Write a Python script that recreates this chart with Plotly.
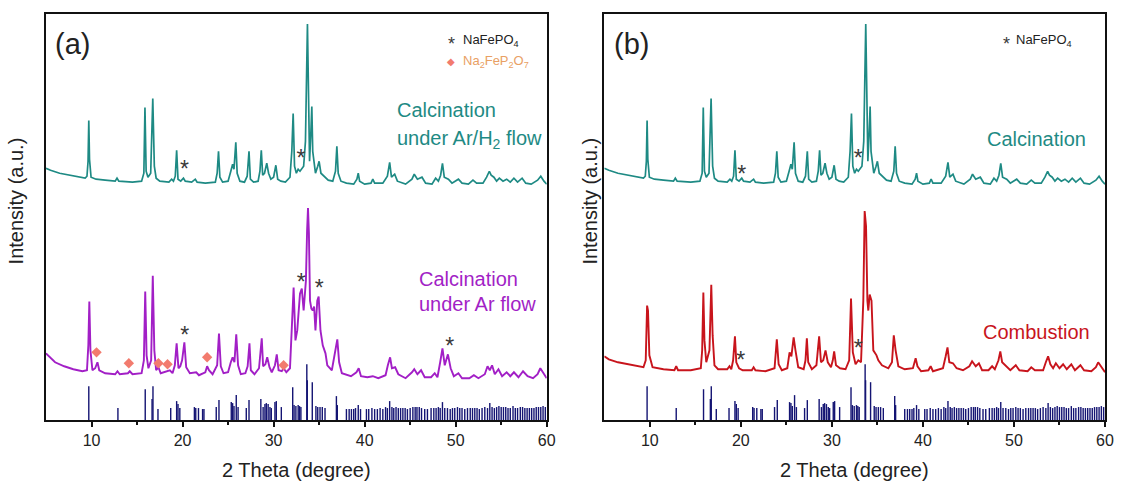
import plotly.graph_objects as go

# ---------------------------------------------------------------------------
# XRD patterns (2-theta in degrees, stacked intensity in arbitrary units)
# ---------------------------------------------------------------------------

# Calcination under Ar/H2 flow (also shown as "Calcination" in panel b)
teal_2theta = [5.0, 5.5, 6.5, 7.5, 8.5, 9.3, 9.5, 9.62, 9.7, 9.78, 9.95, 10.5, 11.5, 12.6, 12.8, 13.0,
               14.5, 15.5, 15.75, 15.87, 16.0, 16.2, 16.5, 16.73, 16.9, 17.1, 17.5, 18.5, 18.8, 19.0,
               19.2, 19.35, 19.5, 19.8, 20.1, 20.3, 21.0, 21.4, 21.6, 22.5, 23.6, 23.8, 23.95, 24.1,
               24.4, 25.0, 25.3, 25.5, 25.65, 25.85, 26.0, 26.3, 26.8, 27.1, 27.3, 27.45, 27.8, 28.3,
               28.5, 28.65, 28.8, 29.0, 29.25, 29.45, 29.7, 30.0, 30.25, 30.45, 30.8, 31.3, 31.8, 32.0,
               32.15, 32.3, 32.5, 32.7, 32.9, 33.1, 33.3, 33.5, 33.62, 33.72, 33.85, 33.95, 34.1, 34.2,
               34.3, 34.45, 34.6, 34.85, 35.0, 35.2, 35.6, 36.0, 36.5, 36.8, 36.95, 37.1, 37.4, 38.0,
               38.8, 39.15, 39.3, 39.45, 40.0, 40.7, 40.9, 41.1, 42.0, 42.5, 42.75, 42.95, 43.3, 43.6,
               44.5, 45.2, 45.45, 45.8, 46.3, 46.7, 47.4, 47.8, 48.1, 48.35, 48.55, 48.75, 49.2, 49.6,
               50.3, 50.7, 51.4, 51.9, 52.3, 53.0, 53.4, 53.7, 53.9, 54.2, 54.5, 54.8, 55.2, 55.6,
               56.0, 56.4, 56.8, 57.3, 57.7, 58.3, 59.0, 59.35, 59.7, 60.0]
teal_int = [253, 251, 248, 246, 244, 243, 245, 260, 301, 262, 244, 242, 241, 240, 243, 240,
            239, 240, 248, 314, 250, 244, 248, 323, 255, 243, 240, 239, 242, 240,
            245, 271, 242, 240, 243, 240, 239, 242, 239, 238, 239, 248, 270, 244,
            239, 240, 250, 257, 252, 279, 248, 240, 239, 245, 270, 242, 239, 240,
            250, 271, 246, 248, 258, 248, 242, 244, 256, 242, 240, 239, 244, 270,
            308, 255, 248, 252, 250, 253, 255, 280, 360, 398, 320, 260, 290, 315,
            270, 258, 248, 255, 260, 248, 244, 241, 240, 250, 275, 248, 240, 238,
            237, 242, 248, 240, 237, 238, 242, 238, 238, 245, 259, 244, 247, 240,
            237, 242, 247, 242, 244, 238, 237, 243, 240, 246, 258, 244, 242, 238,
            242, 238, 237, 241, 238, 238, 244, 250, 246, 244, 240, 243, 240, 242,
            239, 243, 239, 243, 238, 237, 241, 245, 240, 237]

# Calcination under Ar flow
purple_2theta = [5.0, 5.5, 6.0, 7.0, 8.0, 9.0, 9.5, 9.65, 9.76, 9.88, 10.1, 10.4, 10.65, 10.85, 11.5,
                 12.6, 12.85, 13.1, 14.0, 14.2, 14.5, 15.5, 15.75, 15.9, 16.05, 16.25, 16.55, 16.73,
                 16.9, 17.1, 17.35, 17.6, 18.3, 18.6, 18.9, 19.15, 19.35, 19.55, 19.75, 19.95, 20.2,
                 20.4, 20.8, 21.5, 21.8, 22.5, 22.7, 22.9, 23.3, 23.8, 24.0, 24.2, 24.5, 25.0, 25.3,
                 25.5, 25.7, 25.9, 26.1, 26.4, 26.9, 27.15, 27.35, 27.5, 27.9, 28.4, 28.7, 28.85, 29.1,
                 29.3, 29.55, 29.8, 30.15, 30.35, 30.55, 30.9, 31.1, 31.4, 31.8, 32.0, 32.2, 32.4, 32.6,
                 32.9, 33.1, 33.3, 33.55, 33.68, 33.78, 33.88, 34.0, 34.15, 34.3, 34.45, 34.6, 34.8,
                 34.95, 35.15, 35.4, 35.7, 35.9, 36.4, 36.8, 37.0, 37.2, 37.5, 38.5, 39.1, 39.35, 39.6,
                 40.3, 40.9, 41.5, 42.3, 42.55, 42.8, 43.0, 43.35, 43.7, 44.5, 45.2, 45.45, 45.8, 46.2,
                 46.6, 47.3, 47.7, 48.0, 48.3, 48.55, 48.8, 49.15, 49.45, 49.8, 50.3, 50.7, 51.5, 52.0,
                 52.5, 53.2, 53.5, 53.75, 54.0, 54.3, 54.7, 55.1, 55.6, 56.0, 56.4, 56.9, 57.4, 57.9,
                 58.5, 59.0, 59.3, 59.7, 60.0]
purple_int = [67, 62, 58, 54, 51, 49, 50, 75, 119, 70, 50, 52, 58, 50, 47,
              46, 49, 46, 47, 49, 46, 47, 60, 129, 65, 52, 60, 145,
              70, 50, 53, 47, 49, 50, 47, 55, 77, 52, 54, 60, 78,
              53, 47, 48, 45, 48, 54, 50, 46, 55, 87, 54, 47, 48, 58,
              63, 58, 86, 55, 46, 47, 54, 77, 50, 46, 52, 82, 54, 56,
              63, 53, 48, 55, 66, 50, 49, 52, 48, 52, 90, 133, 80, 90,
              127, 132, 110, 140, 190, 213, 188, 120, 112, 110, 114, 90, 120,
              124, 90, 75, 67, 55, 50, 70, 81, 58, 47, 44, 48, 52, 44,
              43, 44, 42, 45, 55, 63, 52, 53, 46, 42, 48, 51, 46, 50,
              43, 43, 47, 43, 58, 72, 55, 66, 52, 44, 47, 42, 42, 45,
              42, 46, 54, 50, 55, 46, 51, 44, 48, 44, 48, 43, 49, 44,
              42, 46, 52, 46, 42]

# Combustion
red_2theta = [5.0, 5.5, 6.5, 7.5, 8.5, 9.3, 9.55, 9.7, 9.8, 9.95, 10.3, 11.5, 12.7, 12.9, 13.1, 14.5,
              15.6, 15.75, 15.88, 16.0, 16.2, 16.55, 16.75, 16.9, 17.1, 17.5, 18.5, 18.75, 18.95, 19.15,
              19.35, 19.5, 19.8, 20.2, 21.2, 21.4, 21.6, 22.7, 23.7, 23.95, 24.15, 24.5, 25.1, 25.35,
              25.55, 25.8, 26.0, 26.3, 26.9, 27.1, 27.25, 27.4, 27.8, 28.3, 28.6, 28.8, 29.05, 29.3,
              29.55, 29.9, 30.1, 30.25, 30.45, 30.9, 31.5, 31.9, 32.1, 32.3, 32.6, 32.9, 33.2, 33.45,
              33.6, 33.75, 33.9, 34.0, 34.15, 34.35, 34.55, 34.9, 35.1, 35.5, 36.2, 36.6, 36.8, 37.0,
              37.3, 38.0, 38.9, 39.2, 39.4, 39.8, 40.6, 40.85, 41.1, 42.2, 42.5, 42.7, 42.9, 43.3,
              43.7, 44.4, 45.1, 45.4, 45.8, 46.15, 46.5, 47.2, 47.6, 47.9, 48.3, 48.5, 48.7, 49.1,
              49.6, 50.2, 50.6, 51.5, 51.9, 52.3, 53.2, 53.5, 53.75, 54.0, 54.3, 54.6, 55.0, 55.4,
              55.8, 56.3, 56.7, 57.3, 57.7, 58.5, 59.0, 59.25, 59.6, 60.0]
red_int = [64, 61, 58, 56, 54, 53, 60, 115, 110, 65, 53, 51, 50, 54, 50, 50,
           52, 70, 128, 80, 58, 70, 136, 85, 55, 51, 51, 54, 51, 60,
           84, 58, 52, 50, 50, 53, 50, 49, 52, 81, 56, 50, 52, 68,
           64, 83, 70, 53, 51, 60, 82, 58, 51, 55, 84, 58, 60, 70,
           58, 53, 60, 69, 55, 52, 51, 60, 122, 68, 56, 60, 58, 120,
           210, 195, 120, 110, 126, 120, 70, 65, 60, 55, 52, 58, 85, 70,
           54, 51, 52, 62, 54, 49, 50, 54, 49, 52, 64, 73, 58, 57,
           52, 50, 54, 59, 54, 57, 50, 50, 54, 51, 60, 69, 58, 54,
           50, 55, 50, 49, 53, 50, 50, 58, 64, 56, 52, 57, 52, 56,
           51, 56, 50, 55, 50, 49, 53, 58, 53, 48]

# NaFePO4 reference pattern (stick positions and relative heights)
ref_2theta = [9.7, 12.9, 15.9, 16.65, 16.75, 17.3, 18.7, 19.35, 19.5, 19.7, 21.3, 21.45, 21.75, 22.2,
              22.35, 23.7, 24.0, 25.35, 25.5, 25.65, 25.9, 26.1, 27.0, 27.3, 28.6, 28.85, 29.05, 29.2,
              29.4, 29.6, 29.75, 30.15, 30.3, 30.85, 32.1, 32.25, 32.45, 32.7, 32.85, 33.0, 33.65,
              33.7, 34.25, 34.65, 34.85, 35.1, 35.35, 35.65, 36.9, 37.0, 38.0, 38.3, 38.55, 38.8, 39.0,
              39.3, 39.55, 40.2, 40.45, 40.8, 41.1, 41.4, 41.7, 42.0, 42.3, 42.5, 42.75, 43.0, 43.2,
              43.45, 43.7, 43.95, 44.2, 44.45, 44.7, 45.0, 45.3, 45.55, 45.75, 46.0, 46.25, 46.6, 46.9,
              47.3, 47.6, 47.85, 48.1, 48.3, 48.55, 48.8, 49.1, 49.4, 49.65, 49.9, 50.2, 50.45, 50.7,
              51.0, 51.3, 51.6, 51.85, 52.1, 52.35, 52.6, 52.9, 53.2, 53.5, 53.75, 54.0, 54.25, 54.5,
              54.75, 55.0, 55.25, 55.5, 55.75, 56.0, 56.3, 56.55, 56.8, 57.1, 57.35, 57.6, 57.85, 58.1,
              58.35, 58.6, 58.85, 59.1, 59.35, 59.6, 59.85]
ref_int = [34, 12, 31, 21, 34, 11, 12, 19, 16, 12, 13, 12, 12, 11,
           11, 13, 20, 18, 17, 14, 25, 13, 12, 20, 21, 13, 16, 17,
           16, 13, 12, 18, 19, 13, 33, 15, 14, 15, 14, 13, 56,
           40, 38, 14, 13, 13, 13, 12, 24, 15, 11, 11, 11, 11, 12,
           15, 11, 11, 11, 12, 11, 11, 12, 11, 13, 12, 19, 13, 12,
           13, 12, 12, 12, 12, 11, 12, 13, 13, 13, 13, 12, 11, 11,
           12, 12, 12, 13, 12, 18, 12, 12, 11, 12, 12, 13, 12, 12,
           11, 12, 12, 12, 12, 12, 11, 12, 13, 12, 17, 13, 12, 13,
           14, 13, 13, 13, 12, 12, 14, 12, 12, 13, 13, 12, 12, 12,
           12, 12, 13, 13, 13, 14, 13]

# Phase markers: NaFePO4 (*) and Na2FeP2O7 (diamond)
star_a_2theta = [20.2, 33.0, 20.25, 33.05, 35.0, 49.35]
star_a_int = [250, 261, 83, 136, 130, 72]
diamond_a_2theta = [10.55, 14.1, 17.35, 18.35, 22.7, 31.1]
diamond_a_int = [68, 57, 57, 56, 63, 55]
star_b_2theta = [20.1, 32.9, 20.0, 32.9]
star_b_int = [245, 261, 58, 70]

TEAL = "#1e8a84"
PURPLE = "#a21fc6"
RED = "#c8141c"
NAVY = "#141473"
STAR = "#3a3a3a"
DIAMOND = "#f27b6e"
FONT = "Liberation Sans, Arial, sans-serif"


def sticks(pos, h):
    xs, ys = [], []
    for p, v in zip(pos, h):
        xs += [p, p, None]
        ys += [0, v, None]
    return xs, ys


fig = go.Figure()

stick_x, stick_y = sticks(ref_2theta, ref_int)

for xa, ya, upper, lower, lower_color in [("x", "y", teal_int, purple_int, PURPLE),
                                         ("x2", "y2", teal_int, red_int, RED)]:
    fig.add_trace(go.Scatter(x=stick_x, y=stick_y, mode="lines", xaxis=xa, yaxis=ya,
                             line=dict(color=NAVY, width=1.4), hoverinfo="skip"))
    fig.add_trace(go.Scatter(x=teal_2theta, y=upper, mode="lines", xaxis=xa, yaxis=ya,
                             line=dict(color=TEAL, width=1.7)))
    lower_x = purple_2theta if xa == "x" else red_2theta
    fig.add_trace(go.Scatter(x=lower_x, y=lower, mode="lines", xaxis=xa, yaxis=ya,
                             line=dict(color=lower_color, width=1.9)))

fig.add_trace(go.Scatter(x=star_a_2theta, y=star_a_int, mode="text", text=["*"] * len(star_a_2theta),
                         textfont=dict(family=FONT, size=23, color=STAR), xaxis="x", yaxis="y"))
fig.add_trace(go.Scatter(x=diamond_a_2theta, y=diamond_a_int, mode="markers", xaxis="x", yaxis="y",
                         marker=dict(symbol="diamond", size=8, color=DIAMOND)))
fig.add_trace(go.Scatter(x=star_b_2theta, y=star_b_int, mode="text", text=["*"] * len(star_b_2theta),
                         textfont=dict(family=FONT, size=23, color=STAR), xaxis="x2", yaxis="y2"))

xaxis_style = dict(range=[5, 60], tickvals=[10, 20, 30, 40, 50, 60], ticks="outside", ticklen=5,
                   tickwidth=1.5, tickcolor="#111", showline=True, linecolor="#111", linewidth=1.6,
                   mirror=True, showgrid=False, zeroline=False,
                   tickfont=dict(family=FONT, size=16, color="#222"),
                   minor=dict(tickvals=[15, 25, 35, 45, 55], ticks="outside", ticklen=3,
                              tickwidth=1.5, tickcolor="#111"))
yaxis_style = dict(range=[0, 408], showticklabels=False, ticks="", showline=True, linecolor="#111",
                   linewidth=1.6, mirror=True, showgrid=False, zeroline=False)

fig.update_layout(
    width=1126, height=484,
    margin=dict(l=46, r=14, t=12, b=64),
    paper_bgcolor="white", plot_bgcolor="white",
    showlegend=False,
    xaxis=dict(domain=[0, 0.4728], anchor="y", **xaxis_style),
    xaxis2=dict(domain=[0.5272, 1], anchor="y2", **xaxis_style),
    yaxis=dict(domain=[0, 1], anchor="x", **yaxis_style),
    yaxis2=dict(domain=[0, 1], anchor="x2", **yaxis_style),
    font=dict(family=FONT, color="#222"),
)


def note(text, x, y, xref, yref, size, color="#222", xanchor="center", angle=0):
    fig.add_annotation(text=text, x=x, y=y, xref=xref, yref=yref, showarrow=False,
                       xanchor=xanchor, yanchor="middle", textangle=angle,
                       font=dict(family=FONT, size=size, color=color))


# axis titles
note("2 Theta (degree)", 32.5, -0.123, "x", "paper", 20)
note("2 Theta (degree)", 32.5, -0.123, "x2", "paper", 20)
note("Intensity (a.u.)", -0.0281, 0.539, "paper", "paper", 20, angle=-90)
note("Intensity (a.u.)", 0.5141, 0.539, "paper", "paper", 20, angle=-90)

# panel labels
note("(a)", 7.9, 378, "x", "y", 29)
note("(b)", 8.0, 378, "x2", "y2", 29)

# phase legends
note("*", 49.5, 378, "x", "y", 18, color=STAR)
note("NaFePO<sub>4</sub>", 50.6, 381, "x", "y", 13, xanchor="left")
note("\u25c6", 49.5, 360, "x", "y", 10, color=DIAMOND)
note("Na<sub>2</sub>FeP<sub>2</sub>O<sub>7</sub>", 50.6, 360, "x", "y", 13, color="#e9a064", xanchor="left")
note("*", 49.2, 378, "x2", "y2", 18, color=STAR)
note("NaFePO<sub>4</sub>", 50.0, 381, "x2", "y2", 13, xanchor="left")

# sample labels
note("Calcination", 43.3, 312, "x", "y", 20, color=TEAL, xanchor="left")
note("under Ar/H<sub>2</sub> flow", 43.3, 282, "x", "y", 20, color=TEAL, xanchor="left")
note("Calcination", 45.7, 142, "x", "y", 20, color=PURPLE, xanchor="left")
note("under Ar flow", 45.7, 117, "x", "y", 20, color=PURPLE, xanchor="left")
note("Calcination", 46.8, 282, "x2", "y2", 20, color=TEAL, xanchor="left")
note("Combustion", 46.4, 88, "x2", "y2", 20, color=RED, xanchor="left")

fig.write_html("out.html")
